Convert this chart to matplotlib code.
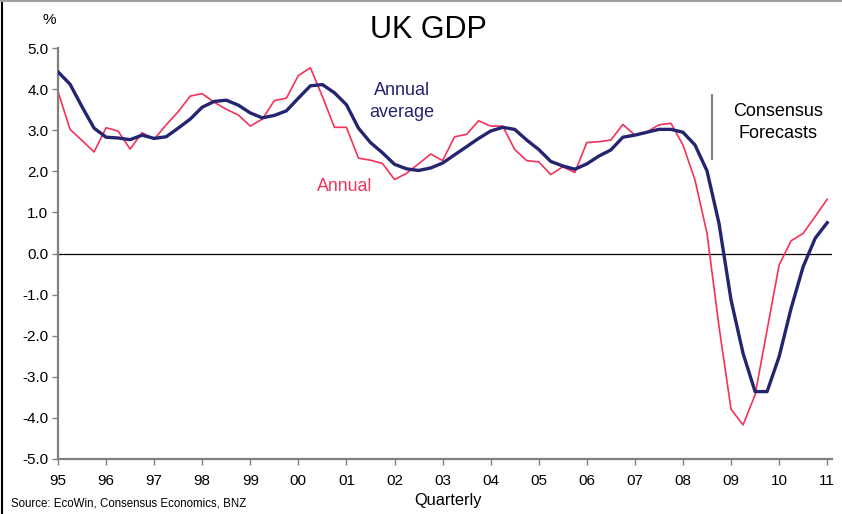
import numpy as np
import matplotlib
matplotlib.use("Agg")
import matplotlib.pyplot as plt
from matplotlib.lines import Line2D

plt.rcParams['font.family'] = ['Liberation Sans', 'DejaVu Sans']

# quarterly, 1995Q1 .. 2011Q1
annual = [3.94, 3.02, 2.75, 2.47, 3.06, 2.98, 2.54, 2.94, 2.78, 3.13,
          3.45, 3.83, 3.89, 3.68, 3.51, 3.37, 3.10, 3.27, 3.72, 3.78,
          4.33, 4.52, 3.82, 3.07, 3.07, 2.32, 2.27, 2.19, 1.80, 1.95,
          2.18, 2.42, 2.26, 2.84, 2.90, 3.23, 3.10, 3.10, 2.53, 2.26,
          2.23, 1.92, 2.11, 1.97, 2.70, 2.72, 2.76, 3.14, 2.88, 2.96,
          3.13, 3.17, 2.64, 1.79, 0.49, -1.78, -3.79, -4.17, -3.44, -1.86,
          -0.28, 0.31, 0.49, 0.90, 1.32]
annual_avg = [4.42, 4.12, 3.57, 3.05, 2.83, 2.81, 2.77, 2.88, 2.80, 2.84,
              3.05, 3.27, 3.56, 3.70, 3.73, 3.61, 3.42, 3.30, 3.36, 3.47,
              3.78, 4.08, 4.11, 3.91, 3.62, 3.05, 2.70, 2.45, 2.17, 2.06,
              2.02, 2.08, 2.20, 2.40, 2.60, 2.80, 2.98, 3.07, 3.02, 2.76,
              2.53, 2.24, 2.13, 2.05, 2.18, 2.37, 2.52, 2.83, 2.88, 2.95,
              3.02, 3.02, 2.95, 2.64, 2.01, 0.73, -1.13, -2.43, -3.36, -3.36,
              -2.51, -1.33, -0.32, 0.37, 0.75]
years = list(range(1995, 2012))
year_labels = ["95", "96", "97", "98", "99", "00", "01", "02", "03", "04",
               "05", "06", "07", "08", "09", "10", "11"]
forecast_start = 2008.61

red = "#F5325A"
navy = "#242470"
grey = "#808080"

x = 1995 + np.arange(len(annual)) / 4.0

fig = plt.figure(figsize=(8.42, 5.14), dpi=100)
ax = fig.add_axes([58/842, 1 - 459/514, (832 - 58)/842, (459 - 48)/514])

ax.axhline(0, color="black", lw=0.9, zorder=1)
ax.plot(x, annual, color=red, lw=1.2, zorder=2)
ax.plot(x, annual_avg, color=navy, lw=2.4, zorder=3)

# marker for start of forecasts
ax.plot([forecast_start, forecast_start], [2.30, 3.86], color=grey, lw=1.5)

ax.set_xlim(1995, 2011.1)
ax.set_ylim(-5, 5)
ax.set_yticks(np.arange(-5, 5.1, 1))
ax.set_yticklabels(["%.1f" % v for v in np.arange(-5, 5.1, 1)])
ax.set_xticks(years)
ax.set_xticklabels(year_labels)

for s in ["top", "right"]:
    ax.spines[s].set_visible(False)
for s in ["left", "bottom"]:
    ax.spines[s].set_color(grey)
    ax.spines[s].set_linewidth(1.6)
ax.tick_params(axis="both", direction="out", length=4, width=1, color=grey,
               labelsize=11, labelcolor="black")
ax.tick_params(axis="x", pad=7)
ax.tick_params(axis="y", pad=3)

fig.text(428/842, 1 - 30/514, "UK GDP", ha="center", va="center", fontsize=22)
fig.text(49/842, 1 - 20/514, "%", ha="center", va="center", fontsize=11)
ax.text(2002.15, 3.69, "Annual\naverage", color=navy, ha="center", va="center",
        fontsize=13, linespacing=1.4)
ax.text(2000.97, 1.64, "Annual", color=red, ha="center", va="center", fontsize=12.8)
ax.text(2009.97, 3.19, "Consensus\nForecasts", color="black", ha="center",
        va="center", fontsize=13, linespacing=1.4)
fig.text(448/842, 1 - 500/514, "Quarterly", ha="center", va="center", fontsize=11.8)
fig.text(11/842, 1 - 503/514, "Source: EcoWin, Consensus Economics, BNZ",
         ha="left", va="center", fontsize=8.3)

# frame edges of the original slide
fig.add_artist(Line2D([0.002, 0.002], [0, 1], transform=fig.transFigure,
                      color="black", lw=1.5))
fig.add_artist(Line2D([0, 1], [0.999, 0.999], transform=fig.transFigure,
                      color="#A0A0A0", lw=1.5))

fig.savefig("out.png", dpi=100)
